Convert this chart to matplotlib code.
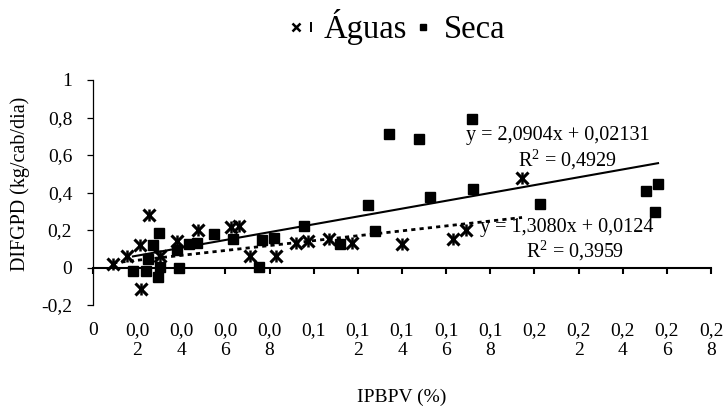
import numpy as np
import matplotlib
matplotlib.use("Agg")
import matplotlib.pyplot as plt
from matplotlib.lines import Line2D
from matplotlib.legend_handler import HandlerTuple

plt.rcParams['font.family'] = ['Liberation Serif', 'DejaVu Serif']
plt.rcParams['mathtext.fontset'] = 'custom'
plt.rcParams['mathtext.rm'] = 'Liberation Serif'

# Águas (asterisks)
aguas_x = [0.0091, 0.0154, 0.0213, 0.0254, 0.0304, 0.0381, 0.0476, 0.0625, 0.0662,
           0.0711, 0.0829, 0.0920, 0.0974, 0.1069, 0.1174, 0.1401, 0.1631, 0.1690,
           0.1944, 0.0217]
aguas_y = [0.021, 0.064, 0.122, 0.282, 0.064, 0.144, 0.202, 0.218, 0.223,
           0.064, 0.064, 0.133, 0.144, 0.154, 0.133, 0.128, 0.154, 0.202,
           0.479, -0.112]

# Seca (squares)
seca_x = [0.0181, 0.0240, 0.0249, 0.0272, 0.0299, 0.0304, 0.0295, 0.0390, 0.0381,
          0.0435, 0.0471, 0.0548, 0.0634, 0.0752, 0.0766, 0.0820, 0.0956, 0.1119,
          0.1246, 0.1278, 0.1341, 0.1477, 0.1527, 0.1722, 0.1717, 0.2025, 0.2506,
          0.2560, 0.2546]
seca_y = [-0.016, -0.016, 0.043, 0.122, 0.186, 0.005, -0.048, 0.000, 0.096,
          0.128, 0.133, 0.181, 0.154, 0.005, 0.149, 0.160, 0.223, 0.128,
          0.335, 0.197, 0.713, 0.686, 0.378, 0.420, 0.793, 0.340, 0.410,
          0.447, 0.298]

# trendline coefficients printed on the chart
seca_slope, seca_icpt = 2.0904, 0.02131
aguas_slope, aguas_icpt = 1.3080, 0.0124

xticks = [0, 0.02, 0.04, 0.06, 0.08, 0.10, 0.12, 0.14, 0.16, 0.18, 0.20, 0.22, 0.24, 0.26, 0.28]
xlabels = ["0", "0,0\n2", "0,0\n4", "0,0\n6", "0,0\n8", "0,1", "0,1\n2", "0,1\n4", "0,1\n6",
           "0,1\n8", "0,2", "0,2\n2", "0,2\n4", "0,2\n6", "0,2\n8"]
yticks = [-0.2, 0, 0.2, 0.4, 0.6, 0.8, 1.0]
ylabels = ["-0,2", "0", "0,2", "0,4", "0,6", "0,8", "1"]

W, H = 724, 408
fig = plt.figure(figsize=(W / 100, H / 100), dpi=100)
ax = fig.add_axes([93 / W, 1 - 305 / H, (711 - 93) / W, (305 - 80) / H])

# asterisk = x with a vertical bar
ax.plot(aguas_x, aguas_y, ls='none', marker='x', ms=8.5, mew=2.2, color='black', zorder=3)
ax.plot(aguas_x, aguas_y, ls='none', marker='|', ms=9, mew=1.8, color='black', zorder=3)
ax.plot(seca_x, seca_y, ls='none', marker='s', ms=6.5, color='black', zorder=3)

xs = np.array([min(seca_x), max(seca_x)])
ax.plot(xs, seca_slope * xs + seca_icpt, color='black', lw=1.5, zorder=4)
xa = np.array([min(aguas_x), max(aguas_x)])
ax.plot(xa, aguas_slope * xa + aguas_icpt, color='black', lw=2, ls=(0, (1.5, 1.5)), zorder=4)

fs = 14.5
ax.text(0.169, 0.679, "y = 2,0904x + 0,02131", fontsize=fs, va='baseline', ha='left')
ax.text(0.1926, 0.540, "R$^2$ = 0,4929", fontsize=fs, va='baseline', ha='left')
ax.text(0.1753, 0.187, "y = 1,3080x + 0,0124", fontsize=fs, va='baseline', ha='left')
ax.text(0.1962, 0.053, "R$^2$ = 0,3959", fontsize=fs, va='baseline', ha='left')

ax.set_xlim(0, 0.28)
ax.set_ylim(-0.2, 1.0)
for s in ('top', 'right'):
    ax.spines[s].set_visible(False)
ax.spines['bottom'].set_position(('data', 0))
ax.spines['bottom'].set_linewidth(1.5)
ax.spines['left'].set_linewidth(0.9)

ax.set_xticks(xticks)
ax.tick_params(axis='x', labelbottom=False, direction='out', length=4.3, width=1.5)
ax.set_yticks(yticks, ylabels)
ax.tick_params(axis='y', direction='out', length=4, width=0.9, pad=11, labelsize=14)

sec = ax.secondary_xaxis('bottom')
sec.spines['bottom'].set_visible(False)
sec.set_xticks(xticks, xlabels)
sec.tick_params(length=0, pad=12, labelsize=14)
for lab in sec.get_xticklabels():
    lab.set_linespacing(1.25)

fig.text(402 / W, 1 - 402 / H, "IPBPV (%)", fontsize=14, ha='center', va='baseline')
fig.text(20 / W, 1 - 184 / H, "DIFGPD (kg/cab/dia)", fontsize=14.5, rotation=90,
         ha='center', va='center')

h_ast = (Line2D([], [], ls='none', marker='x', ms=6, mew=1.8, color='black'),
         Line2D([], [], ls='none', marker='|', ms=6.5, mew=1.4, color='black'))
h_sq = Line2D([], [], ls='none', marker='s', ms=5, color='black')
fig.legend([h_ast, h_sq], ["Águas", "Seca"], loc='center', bbox_to_anchor=(400 / W, 1 - 27 / H),
           ncol=2, frameon=False, fontsize=23.5, handlelength=0.5, handletextpad=0.37,
           columnspacing=0.25, handler_map={tuple: HandlerTuple(ndivide=None)})

fig.savefig("out.png", dpi=100)
